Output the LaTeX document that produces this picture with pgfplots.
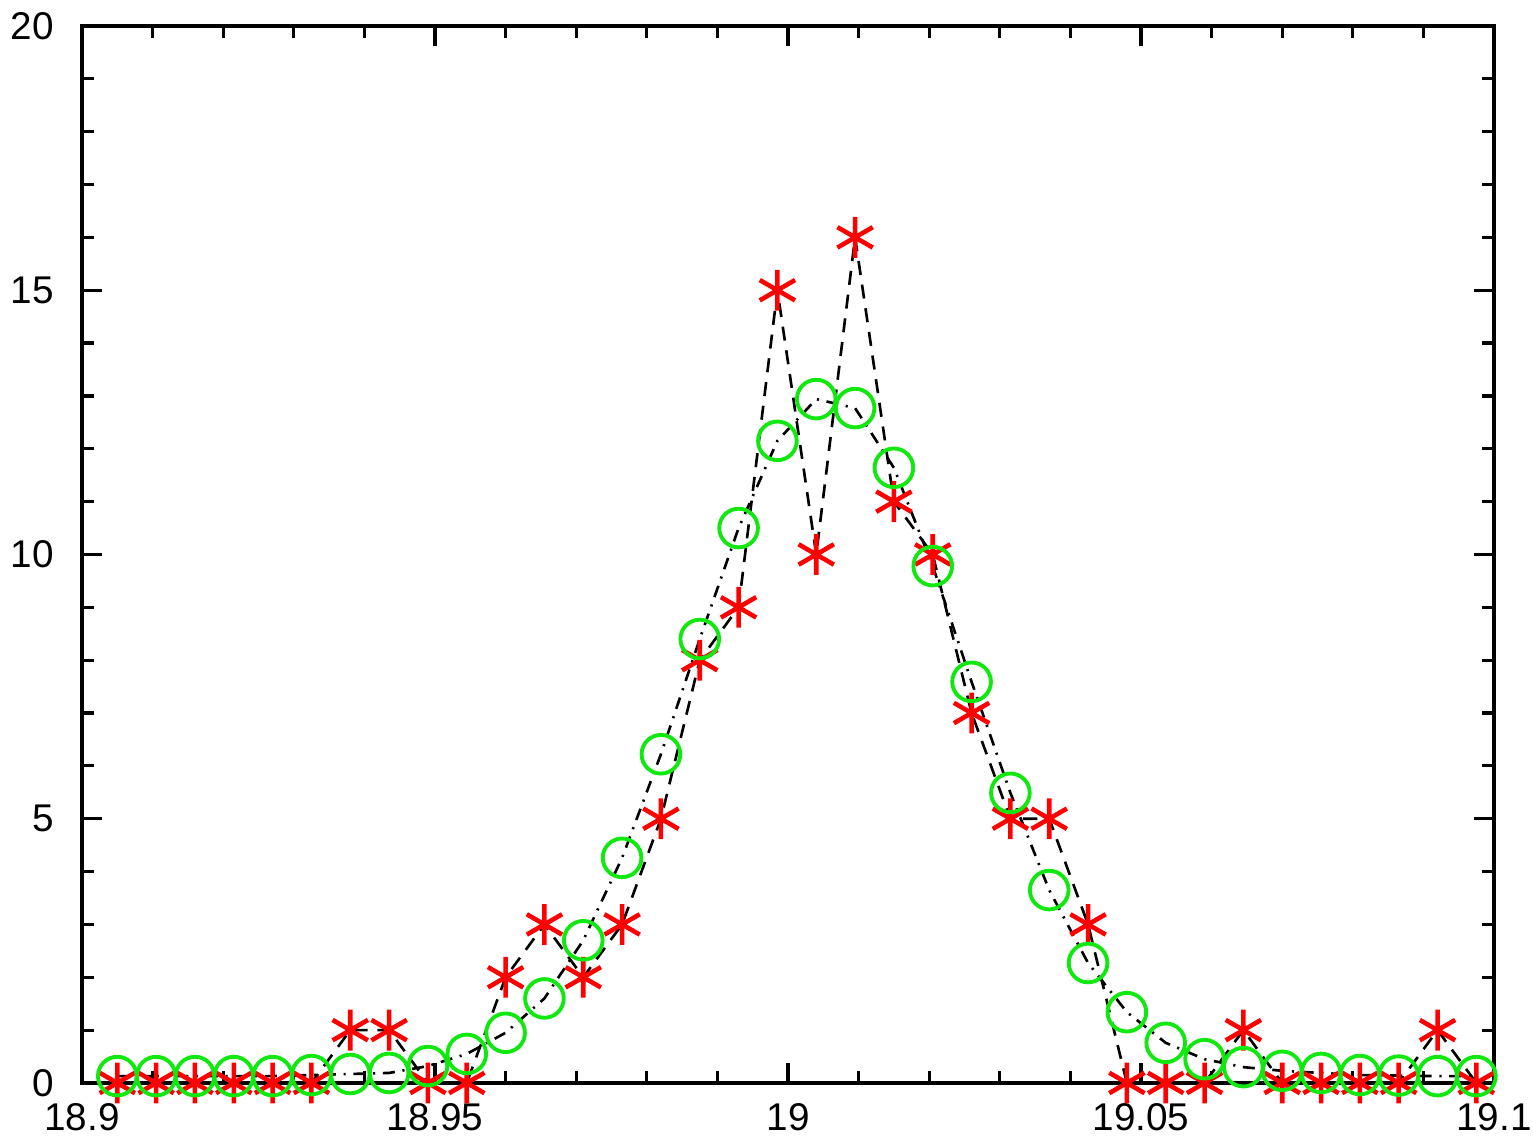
\documentclass[border=0pt]{standalone}
\usepackage{fontspec}
\setmainfont{Liberation Sans}
\usepackage{pgfplots}
\usepackage{pgfplotstable}
\pgfplotsset{compat=1.18}
\definecolor{starred}{HTML}{FF0000}
\definecolor{ringgreen}{HTML}{10E810}

% counts (stars) and fitted profile (circles)
\pgfplotstableread{
x       n   fit
18.9050 0   0.13
18.9105 0   0.13
18.9160 0   0.13
18.9215 0   0.13
18.9270 0   0.13
18.9325 0   0.15
18.9380 1   0.17
18.9435 1   0.19
18.9490 0   0.32
18.9545 0   0.55
18.9600 2   0.95
18.9655 3   1.60
18.9710 2   2.70
18.9765 3   4.26
18.9820 5   6.22
18.9875 8   8.40
18.9930 9   10.50
18.9985 15  12.15
19.0040 10  12.94
19.0095 16  12.77
19.0150 11  11.64
19.0205 10  9.78
19.0260 7   7.59
19.0315 5   5.49
19.0370 5   3.65
19.0425 3   2.27
19.0480 0   1.34
19.0535 0   0.76
19.0590 0   0.45
19.0645 1   0.30
19.0700 0   0.23
19.0755 0   0.19
19.0810 0   0.15
19.0865 0   0.14
19.0920 1   0.13
19.0975 0   0.13
}\spectrum

\begin{document}
\begin{tikzpicture}
\begin{axis}[
  scale only axis,
  width=14.12cm, height=10.57cm,
  xmin=18.9, xmax=19.1, ymin=0, ymax=20,
  xtick={18.9,18.95,19,19.05,19.1},
  xticklabels={18.9,18.95,19,19.05,19.1},
  ytick={0,5,10,15,20},
  yticklabels={0,5,10,15,20},
  minor x tick num=4, minor y tick num=4,
  tick align=inside,
  major tick length=0.2cm, minor tick length=0.12cm,
  axis line style={line width=0.9pt},
  every tick/.style={black, line width=0.9pt},
  tick label style={font=\fontsize{11}{13}\selectfont},
  xticklabel style={yshift=-0.08cm},
  yticklabel style={xshift=-0.16cm},
  clip=false,
]
\addplot[black, line width=0.75pt, dash pattern=on 4pt off 2.8pt]
  table[x=x, y=n] {\spectrum};
\addplot[black, line width=0.75pt,
  dash pattern=on 3.4pt off 2.2pt on 0.6pt off 2.2pt]
  table[x=x, y=fit] {\spectrum};
\addplot[only marks, starred, mark=asterisk, mark size=5.8pt,
  mark options={line width=1.3pt}]
  table[x=x, y=n] {\spectrum};
\addplot[only marks, ringgreen, mark=o, mark size=5.5pt,
  mark options={line width=1.1pt}]
  table[x=x, y=fit] {\spectrum};
\coordinate (ll) at (rel axis cs:0,0);
\coordinate (ur) at (rel axis cs:1,1);
\end{axis}
\pgfresetboundingbox
\path[use as bounding box] ([xshift=-0.82cm,yshift=-0.53cm]ll)
  rectangle ([xshift=0.39cm,yshift=0.26cm]ur);
\end{tikzpicture}
\end{document}
